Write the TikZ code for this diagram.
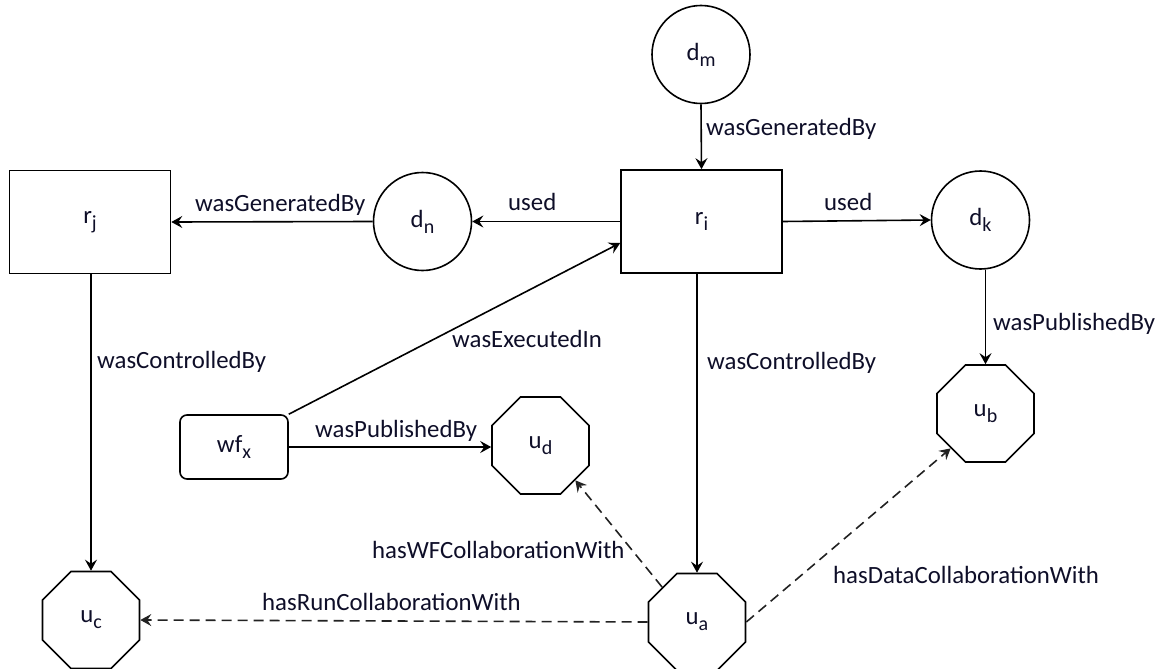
\documentclass[tikz,border=0pt]{standalone}
\usepackage{fontspec}
\setmainfont{Carlito}
\usetikzlibrary{shapes.geometric,arrows.meta,calc}
\definecolor{txt}{HTML}{0E0E28}
\definecolor{dsh}{HTML}{222222}
\newcommand{\sbs}[1]{\raisebox{-6pt}{\fontsize{20}{24}\selectfont #1}}
\tikzset{
  every node/.style={font=\fontsize{24.8}{30}\selectfont, text=txt},
  circ/.style={circle, draw=black, line width=1.6pt, minimum size=98pt, inner sep=0pt},
  rbox/.style={rectangle, draw=black, line width=1.6pt, minimum width=161pt, minimum height=103pt, inner sep=0pt},
  oct/.style={regular polygon, regular polygon sides=8, draw=black, line width=1.6pt, minimum size=105pt, inner sep=0pt},
  wfbox/.style={rectangle, rounded corners=7pt, draw=black, line width=1.6pt, minimum width=108pt, minimum height=64pt, inner sep=0pt},
  conn/.style={line width=1.6pt, draw=black, -{Stealth[length=11pt,width=12pt,inset=4pt]}},
  dconn/.style={line width=1.6pt, draw=dsh, dash pattern=on 10pt off 6pt, -{Stealth[length=11pt,width=12pt,inset=4pt]}},
  lbl/.style={anchor=base west, inner sep=0pt}
}
\begin{document}
\begin{tikzpicture}[x=1pt,y=-1pt]
\useasboundingbox (0,0) rectangle (1162,669);
% nodes
\node[circ] (dm) at (701,54.5) {d\sbs{m}};
\node[rbox] (ri) at (701.5,221.5) {r\sbs{i}};
\node[circ] (dn) at (422.5,221.5) {d\sbs{n}};
\node[rbox] (rj) at (90,222) {r\sbs{j}};
\node[circ] (dk) at (980.5,220) {d\sbs{k}};
\node[oct] (ub) at (985.5,413.5) {u\sbs{b}};
\node[oct] (ud) at (540.5,445.5) {u\sbs{d}};
\node[wfbox] (wf) at (234,447) {wf\sbs{x}};
\node[oct] (uc) at (91,620) {u\sbs{c}};
\node[oct] (ua) at (697,622) {u\sbs{a}};
% connectors
\draw[conn] (dm.south) -- (ri.north);
\draw[conn] (ri.west) -- (dn.east);
\draw[conn] (dn.west) -- (rj.east);
\draw[conn] (ri.east) -- (dk.west);
\draw[conn] (dk.south -| ub.north) -- (ub.north);
\draw[conn] (rj.south -| uc.north) -- (uc.north);
\draw[conn] (ri.south -| ua.north) -- (ua.north);
\draw[conn] (wf.north east) -- ($(ri.west)+(0,21.5)$);
\draw[conn] (wf.east) -- (wf.east -| ud.west);
\draw[dconn] (ua.west) -- (uc.east);
\draw[dconn] (ua.north west) -- (ud.south east);
\draw[dconn] (ua.east) -- (ub.south west);
% labels
\node[lbl] (l1) at (706,135) {wasGeneratedBy};
\node[lbl] (l2) at (195,211) {wasGeneratedBy};
\node[lbl] (l3) at (508,210) {used};
\node[lbl] (l4) at (824,210) {used};
\node[lbl] (l5) at (993,330) {wasPublishedBy};
\node[lbl] (l6) at (97,368) {wasControlledBy};
\node[lbl] (l7) at (707,369) {wasControlledBy};
\node[lbl] (l8) at (452,347.5) {wasExecutedIn};
\node[lbl] (l9) at (315,437) {wasPublishedBy};
\node[lbl] (l10) at (372,558) {hasWFCollaborationWith};
\node[lbl] (l11) at (262,610) {hasRunCollaborationWith};
\node[lbl] (l12) at (833,583) {hasDataCollaborationWith};
\end{tikzpicture}
\end{document}
